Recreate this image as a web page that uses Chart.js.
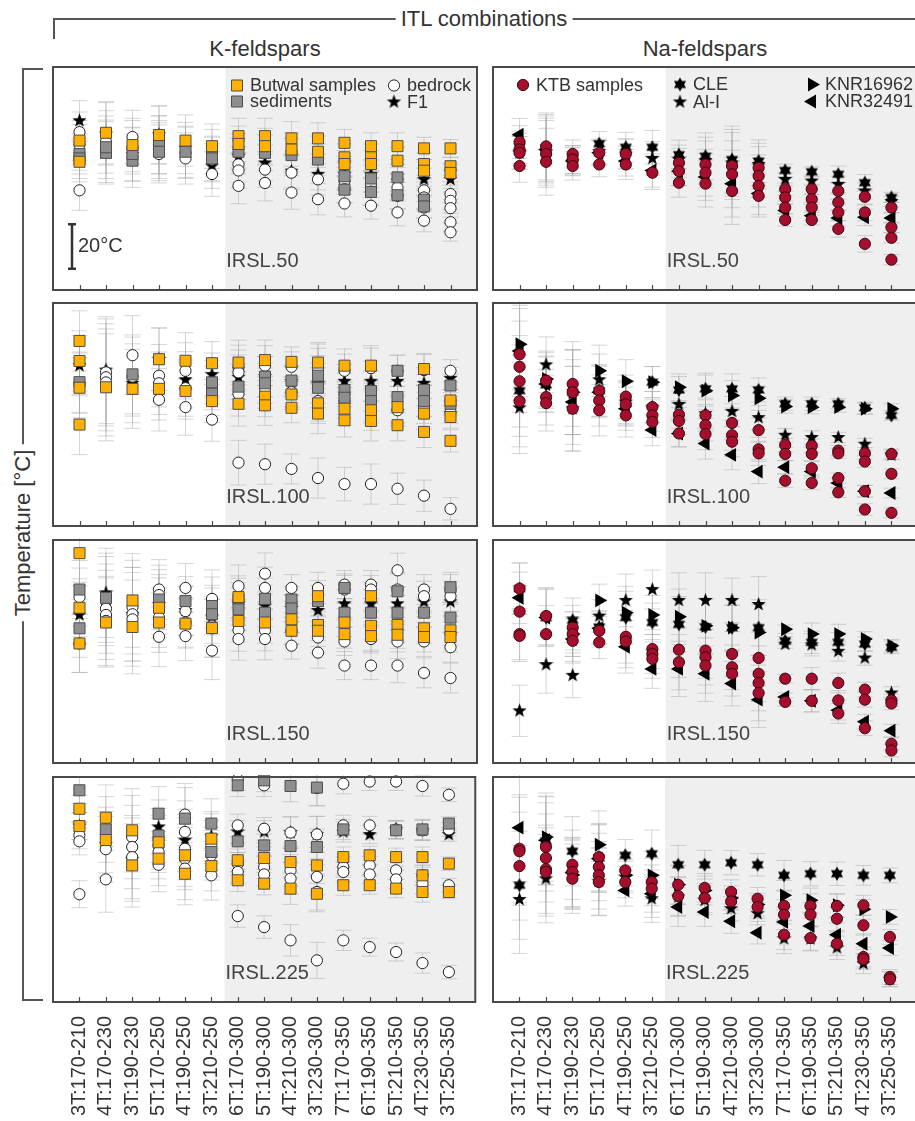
<!DOCTYPE html>
<html>
<head>
<meta charset="utf-8">
<script src="https://cdn.jsdelivr.net/npm/chart.js@4/dist/chart.umd.min.js"></script>
<style>
  body { margin:0; width:915px; height:1121px; overflow:hidden; position:relative; background:#fff;
         font-family:"Liberation Sans", Arial, sans-serif; color:#333; }
  canvas { position:absolute; }
  .hd { position:absolute; font-size:22px; white-space:nowrap; background:#fff; padding:0 5px;
        transform:translate(-50%,-50%); line-height:24px; }
  .ln { position:absolute; background:#555; }
</style>
</head>
<body>
<div class="ln" style="left:53px;top:18px;width:862px;height:1.5px"></div>
<div class="ln" style="left:53px;top:18px;width:1.5px;height:21px"></div>
<div class="hd" style="left:484px;top:19px">ITL combinations</div>
<div class="hd" style="left:265px;top:49px">K-feldspars</div>
<div class="hd" style="left:705px;top:49px">Na-feldspars</div>
<div class="ln" style="left:22px;top:68px;width:1.5px;height:933px"></div>
<div class="ln" style="left:22px;top:68px;width:21px;height:1.5px"></div>
<div class="ln" style="left:22px;top:999px;width:21px;height:1.5px"></div>
<div class="hd" style="left:23px;top:533px;transform:translate(-50%,-50%) rotate(-90deg)">Temperature [°C]</div>

<script>
// ITL combinations (x axis)
const categories = ['3T:170-210','4T:170-230','3T:190-230','5T:170-250','4T:190-250','3T:210-250',
  '6T:170-300','5T:190-300','4T:210-300','3T:230-300','7T:170-350','6T:190-350','5T:210-350','4T:230-350','3T:250-350'];
const steps = ['IRSL.50', 'IRSL.100', 'IRSL.150', 'IRSL.225'];

// ---- K-feldspars, IRSL.50 ----
const kButwal50 = [[67,57.5],[70.5],[65],[69.5],[67],[64.5],[69,65.5],[69,64.5],[68,63],[68,62],[66,59.5,56.5],[64.5,59.5,56.5],[64.5,58],[63.5,56.5,53.5],[63.5,55.5,52.5]];
const kSed50 = [[61,59],[61.5,64],[58,61],[65,62],[62],[62,59],[62],[61.5],[60.5],[58.5],[51,45],[50,44],[50.5,42.5],[40.5,37.5],[]];
const kBedrock50 = [[70.8,65.2,44.7],[66.4,62.2],[68.6,64],[65.2,63,61],[61.5,59],[58.5,52],[56.3,53.6,46.7],[54,48],[52.6,43.7],[49.6,40.7],[48.9,45.2,38.8],[47.4,44.1,37.8],[45.9,42.2,34.8],[44.7,41.5,37,31.1],[43,40,36.7,30.4,25.9]];
const kF1_50 = [75.9,70,60.7,69.6,63.7,55.6,60,57,53.3,51.9,51.9,51.9,48.9,49.6,49.6];
const kErr50 = [9,14,12,13,11.5,10,8,8,7.5,7,6,6,6,5,4];

// ---- K-feldspars, IRSL.100 ----
const kButwal100 = [[83,74,62,45.5],[62.2],[61.5],[74.8,61.5],[74.1,60.5],[73,56],[73.3,54.8],[74.4,58,54.1],[73.6,59,53],[73.3,55,50.4],[71.9,52.6,47.4],[71.9,51.9,47.1],[53.3,45.2],[70.4,50.4,42.2],[56.3,48.9,38.2]];
const kSed100 = [[64.5],[],[68],[],[],[64.4,59.3],[62.5],[67,64],[65.2],[67.4,62],[61,57.5],[60.5,56],[69.6,57.8],[61,56],[63,54.8]];
const kBedrock100 = [[64],[68.9,66.7,64.4],[76.6,67],[67.4,64,56.6],[69.6,61.8,53.3],[61.8,47.7],[71.1,68.9,59.3,28.4],[71.9,61.8,27.7],[71.4,60,25.6],[72.6,70.7,56,21.5],[69.6,56,18.8],[70.8,55.1,18.8],[69.6,51.9,16.7],[69.9,53,13.6],[69.6,51.1,7.7]];
const kF1_100 = [71.9,69.9,64,74.8,65.6,67.9,66.7,67,64.7,64,64.9,64.9,64.9,64,66.2];
const kErr100 = [13.5,24,17.7,14,12.6,9.7,10,9,6.7,9,7.5,9,7,7,5];

// ---- K-feldspars, IRSL.150 ----
const kButwal150 = [[94.1,69.6,53.6],[63],[72.9,61],[69.6,63],[62.5],[60.5],[74.4,63.7],[63],[64.4,59.3],[74.8,61.9,59.3],[63,57.8],[74.8,61.5,56.9],[61.9,57.5],[60.4,56.5],[59.5,56.5]];
const kSed150 = [[77.8,60.4],[74.1],[],[73.3],[72.6],[70.4,66.7],[73.3,68.9],[73.6,67.4],[73.3,69.3],[72.6],[78.5,67.4],[67.4],[77,67.4],[67.4],[78.8,65.2]];
const kBedrock150 = [[74.4,53.6],[72.6,69.2,66.4,63.7],[69.9,66.7,64.4],[77.8,75.3,65.2,56.6],[78.5,68.1,63,56.9],[73.6,60.4,50.4],[79.3,59.6,55.6],[84.9,78.5,59.6,55.6],[78.5,59.3,52.6],[78.5,56.3,49.5],[80,77.8,54.5,43.7],[80,77.8,55.6,43.7],[86.4,77.8,54.5,43.7],[77.8,74.8,54.5,40.4],[77.8,74.8,51.9,38.1]];
const kF1_150 = [66.4,76.3,66.7,71.1,68.4,65.5,71.4,70.4,69.3,68.4,71.4,71.4,71.4,72.3,72.3];
const kErr150 = [13,20,21,13.4,11,13,9.5,9.3,6,7,6.3,6.3,7.7,6.7,6.7];

// ---- K-feldspars, IRSL.225 ----
const kButwal225 = [[85.9,78.2],[81.9,72],[76.3,60.7],[71,63.7],[65.2,57],[72.6,60.4],[63,54.1],[64,52.6],[62.2,50.4],[60.7,48.1],[64.4,51.9],[65.2,51.9],[64.4,50.4],[64.4,56.3,48.9],[61.5,48.9]];
const kSed225 = [[94.1],[76.7],[],[83.7,74],[81.5],[79.3,66.7],[96.3,71.4],[98.5,69.6],[96,69.3],[95.3,68.9],[76.7],[],[76.3],[76.7],[79.3]];
const kBedrock225 = [[74.1,71.4,47.9],[67.9,54.5],[73.3,68.9,64.4],[69.6,66.7,61],[83.3,75.6,68.1,63.7,59.3],[69.6,65.2,56.3],[99,78.5,61.5,57.8,38.2],[96.3,77,60,56.7,33.3],[75.3,58.5,54.8,27.4],[95.1,74.5,55.6,48.9,18.5],[97,78.5,60,57.8,27.4],[98,78.5,60.7,56.7,24.4],[98,76.6,58.5,54.5,22.2],[96,76.3,56.3,52.6,17.3],[92.1,76.7,51.9,13.3]];
const kF1_225 = [78.2,70.1,63.3,77.8,71.9,73.6,75.6,75.6,75.3,74.5,75.6,74.4,76.7,76.3,74.4];
const kErr225 = [6,14.6,18.5,12,13.8,11,5,5,7,8,4.5,4,4,4.5,3];

// ---- Na-feldspars, IRSL.50 ----
const naKtb50 = [[66.4,63,61.5,55.6],[64.4,61,57.5],[61,58.5,55.6],[61.5,56.3],[61,56.3],[52.6],[57,53.3,48.1],[56.3,52.6,47.7],[55.6,51.9,44.4],[54.8,51.1,46.7,42.2],[45.2,41.5,37,31.4],[45.2,40.7,37,31.4],[44.4,39.3,34.8,27.4],[41.8,34.8,20.7],[37,28.1,23.4,13.6]];
const naCle50 = [64,63.7,58.5,65.6,64,64,60.7,60,58.5,57.8,53.6,53,51.9,48.1,41.5];
const naAlI50 = [61.5,62,57.5,62.2,61,59,58.5,58,57,56.3,49.6,48.9,47.4,44.4,39.7];
const naKnr16962_50 = [];
const naKnr32491_50 = [69.6,63,57.8,61.5,57.8,53.6,53.3,50.7,47.7,43.3,35.6,33.3,32.3,32.6,32.3];
const naErr50 = [7.3,15,6.3,5.5,6.7,7.5,6.5,10.5,15,9.5,2.8,2.2,3.7,3.7,2.3];

// ---- Na-feldspars, IRSL.100 ----
const naKtb100 = [[77,71.4,64.9,56],[65.2,57.8,55.1],[63.7,60,52.6],[60.7,56.3,51.9],[58,54.5,49.6],[53.3,49.6,46.7],[49.9,47.1,41.5],[49.6,45.2,41.2],[46.2,40.7,37.8],[43,34.4,32.6],[36.3,32.3,20.3],[36,32.3,25.9,19.3],[33.8,32.6,21.5,15.1],[32.6,28.9,15.6,7.4],[32.3,23.4,5.9]];
const naCle100 = [60.7,63.3,60,60.7,55,64.5,61,61.5,61.5,61,54.8,54.8,54.8,53,49.6];
const naAlI100 = [53,72.3,52.6,65.6,55.6,53.3,54.5,50.4,51.4,48.6,40.7,39.7,39.7,36.7,31.9];
const naKnr16962_100 = [81.5,65.9,60,69.6,64.9,64.5,62.2,60.7,58.5,57.3,53.6,53.3,53.3,52.6,52.6];
const naKnr32491_100 = [78.5,63.7,55.6,60,52.6,43,41.5,37,31.9,24.4,26.4,24.4,19.3,15.6,14.8];
const naErr100 = [20.5,12.5,19,11.5,9.7,7,6,7,6.7,5.4,3,3,2.3,2.6,2.2];

// ---- Na-feldspars, IRSL.150 ----
const naKtb150 = [[78.2,67.9,57.8,57],[65.9,57.8],[60.7,57.8,54.8],[59.3,54.1],[56.6,54.5],[51.1,48.9,46.7],[50.8,45.2],[50.4,47.4,43.7],[48.9,42.9,40],[47.1,40,35.9,31.4],[37.8,27.4],[37.8,27.9],[35.9,28.1,22.2],[32.9,28.4,15.6],[28.1,26.7,8.6,5.6]];
const naCle150 = [78.2,65.2,64,61,65.2,63,62.2,61,60.7,60.7,54.8,54.1,54.1,53.3,51.9];
const naAlI150 = [23.4,44.1,39.3,65.9,72.9,77.8,72.9,72.9,72.9,71.1,53.3,53,50.1,47.1,31.4];
const naKnr16962_150 = [null,null,57.8,72.9,67.4,66.4,65.6,61.5,60.7,58.5,60,57.8,57.8,55.6,52.6];
const naKnr32491_150 = [74.1,65.2,55.6,60.4,52.1,42.2,42.2,40,35.6,28.4,29.6,27.9,23.7,18.5,14.5];
const naErr150 = [11.5,12.8,10,7.3,11.8,8.7,12.4,12.4,10,12.5,1.9,5,4.4,3.3,2.8];

// ---- Na-feldspars, IRSL.225 ----
const naKtb225 = [[68.1,67,60.4],[68.9,64,59,57.8],[61,57.8,54.8],[64.4,60,56.3,53.3],[58.5,53.3],[53.3,50.4],[52.1,47.1],[50.7,46.2],[48.9,44.7],[45.9,42.2],[42.7,38.8,29.9],[42.7,38.8,28.4],[42.7,37,25.9],[43,34.1,20,19],[28.9,11.1,10.1]];
const naCle225 = [51.9,71.6,67,64,65.2,65.9,61,61,61.9,61,56.3,57,57,56.3,56.3];
const naAlI225 = [45.6,54.8,57,53.6,55.5,45.9,46.7,45.2,41.5,39.3,28.1,28.1,24.1,17,10.1];
const naKnr16962_225 = [null,73.3,56.5,69.9,56.3,56.3,52.1,49.6,46.2,43.3,47.4,45.2,43,41.2,37.8];
const naKnr32491_225 = [77.5,71.9,57.5,63.7,49.6,48.1,42.2,40,35.9,30.8,35.6,33.8,29.9,25.9,24];
const naErr225 = [24,19.6,15.4,15,7,10.5,8.6,6.4,5.4,5,6.6,5.4,5.2,4.4,3.3];

// layout of the 4x2 panel grid
const ROW_TOP = [67, 303, 540, 777];
const PANEL_H = 225;
const COL_LEFT = [53, 493];
const PANEL_W = [424, 425];
const FONT = '"Liberation Sans", Arial, sans-serif';

const ORANGE = '#ffb000', GREY = '#8e8e8e', RED = '#a50f2d';

function starCanvas(n, ro, ri) {
  const c = document.createElement('canvas');
  const s = Math.ceil(ro * 2 + 2);
  c.width = c.height = s;
  const g = c.getContext('2d');
  g.beginPath();
  for (let k = 0; k < 2 * n; k++) {
    const r = k % 2 ? ri : ro;
    const a = -Math.PI / 2 + k * Math.PI / n;
    g.lineTo(s / 2 + r * Math.cos(a), s / 2 + r * Math.sin(a));
  }
  g.closePath();
  g.fillStyle = '#000';
  g.fill();
  return c;
}
const star5 = starCanvas(5, 7.5, 3.1);
const star6 = starCanvas(6, 7, 4.1);

// flatten per-category lists into scatter points
function pts(list) {
  const out = [];
  list.forEach((v, i) => {
    [].concat(v).forEach(y => { if (y != null) out.push({ x: i, y: y }); });
  });
  return out;
}

function kSets(butwal, sed, bed, f1) {
  return [
    { label: 'Butwal samples', data: pts(butwal), pointStyle: 'rect', pointRadius: 7.8,
      pointBackgroundColor: ORANGE, pointBorderColor: '#4d4d4d', pointBorderWidth: 1 },
    { label: 'sediments', data: pts(sed), pointStyle: 'rect', pointRadius: 7.8,
      pointBackgroundColor: GREY, pointBorderColor: '#4d4d4d', pointBorderWidth: 1 },
    { label: 'bedrock', data: pts(bed), pointStyle: 'circle', pointRadius: 5.6,
      pointBackgroundColor: '#fff', pointBorderColor: '#222', pointBorderWidth: 1 },
    { label: 'F1', data: pts(f1), pointStyle: star5, pointRadius: 6 }
  ];
}

function naSets(ktb, cle, ali, knrA, knrB) {
  return [
    { label: 'KTB samples', data: pts(ktb), pointStyle: 'circle', pointRadius: 5.6,
      pointBackgroundColor: RED, pointBorderColor: '#3a0810', pointBorderWidth: 1 },
    { label: 'KNR16962', data: pts(knrA), pointStyle: 'triangle', pointRotation: 90, pointRadius: 8,
      pointBackgroundColor: '#000', pointBorderColor: '#000', pointBorderWidth: 0 },
    { label: 'KNR32491', data: pts(knrB), pointStyle: 'triangle', pointRotation: -90, pointRadius: 8,
      pointBackgroundColor: '#000', pointBorderColor: '#000', pointBorderWidth: 0 },
    { label: 'CLE', data: pts(cle), pointStyle: star6, pointRadius: 6 },
    { label: 'Al-I', data: pts(ali), pointStyle: star5, pointRadius: 6 }
  ];
}

// white panel with the grey band for the combinations from 6T:170-300 on
const shadePlugin = {
  id: 'shade',
  beforeDatasetsDraw(chart, args, opts) {
    const { ctx, chartArea: ca, scales: { x, y } } = chart;
    ctx.save();
    ctx.fillStyle = '#fff';
    ctx.fillRect(ca.left, ca.top, ca.width, ca.height);
    const xs = x.getPixelForValue(5.5);
    ctx.fillStyle = '#efefef';
    ctx.fillRect(xs, ca.top, ca.right - xs, ca.height);
    // step label
    ctx.fillStyle = '#444';
    ctx.font = '20px ' + FONT;
    ctx.textBaseline = 'middle';
    ctx.fillText(opts.step, xs + 1, ca.bottom - 29);
    // 20 °C scale bar
    if (opts.scaleBar) {
      const bx = ca.left + 19, t = y.getPixelForValue(29.5), b = y.getPixelForValue(9.5);
      ctx.strokeStyle = '#333';
      ctx.lineWidth = 2.5;
      ctx.beginPath();
      ctx.moveTo(bx, t); ctx.lineTo(bx, b);
      ctx.moveTo(bx - 4, t); ctx.lineTo(bx + 4, t);
      ctx.moveTo(bx - 4, b); ctx.lineTo(bx + 4, b);
      ctx.stroke();
      ctx.fillStyle = '#333';
      ctx.fillText('20°C', bx + 6, (t + b) / 2);
    }
    ctx.restore();
  }
};

// error bars, one per point, drawn under the markers
const errPlugin = {
  id: 'errbars',
  beforeDatasetsDraw(chart, args, opts) {
    const { ctx, scales: { x, y } } = chart;
    ctx.save();
    ctx.strokeStyle = 'rgba(165,165,165,0.45)';
    ctx.lineWidth = 1;
    chart.data.datasets.forEach(ds => {
      ds.data.forEach(p => {
        const e = opts.errs[p.x];
        const px = x.getPixelForValue(p.x);
        const t = y.getPixelForValue(p.y + e), b = y.getPixelForValue(p.y - e);
        ctx.beginPath();
        ctx.moveTo(px, t); ctx.lineTo(px, b);
        ctx.moveTo(px - 8, t); ctx.lineTo(px + 8, t);
        ctx.moveTo(px - 8, b); ctx.lineTo(px + 8, b);
        ctx.stroke();
      });
    });
    ctx.restore();
  }
};

// panel frame, inner ticks and legend
const framePlugin = {
  id: 'frame',
  afterDraw(chart, args, opts) {
    const { ctx, chartArea: ca, scales: { x } } = chart;
    ctx.save();
    ctx.strokeStyle = '#4a4a4a';
    ctx.lineWidth = 2;
    ctx.strokeRect(ca.left, ca.top, ca.width, ca.height);
    ctx.lineWidth = 1.2;
    ctx.beginPath();
    categories.forEach((c, i) => {
      const px = Math.round(x.getPixelForValue(i)) + 0.5;
      ctx.moveTo(px, ca.bottom); ctx.lineTo(px, ca.bottom - 5);
    });
    ctx.stroke();
    if (opts.legend) {
      ctx.font = '18px ' + FONT;
      ctx.textBaseline = 'middle';
      opts.legend.forEach(it => {
        const ds = chart.data.datasets.find(d => d.label === it.label);
        const lx = ca.left + it.dx, ly = ca.top + it.dy;
        ctx.fillStyle = ds.pointBackgroundColor || '#000';
        ctx.strokeStyle = ds.pointBorderColor || '#000';
        ctx.lineWidth = ds.pointBorderWidth || 0;
        Chart.helpers.drawPoint(ctx, {
          pointStyle: ds.pointStyle, radius: ds.pointRadius,
          rotation: ds.pointRotation || 0, borderWidth: ds.pointBorderWidth || 0
        }, lx, ly);
        ctx.fillStyle = '#333';
        ctx.fillText(ds.label, lx + 13, ly + 1);
      });
    }
    ctx.restore();
  }
};

const kLegend = [
  { label: 'Butwal samples', dx: 184, dy: 18.5 },
  { label: 'sediments', dx: 184, dy: 34.5 },
  { label: 'bedrock', dx: 341, dy: 18.5 },
  { label: 'F1', dx: 341, dy: 35 }
];
const naLegend = [
  { label: 'KTB samples', dx: 30, dy: 18 },
  { label: 'CLE', dx: 187, dy: 17.5 },
  { label: 'Al-I', dx: 187, dy: 35 },
  { label: 'KNR16962', dx: 319, dy: 17.5 },
  { label: 'KNR32491', dx: 319, dy: 34.5 }
];

function panel(col, row, datasets, errs, extra) {
  const bottom = row === 3;
  const cv = document.createElement('canvas');
  const top = ROW_TOP[row] - 2;
  const h = bottom ? 1121 - top : PANEL_H + 4;
  cv.width = PANEL_W[col] + 4;
  cv.height = h;
  cv.style.left = (COL_LEFT[col] - 2) + 'px';
  cv.style.top = top + 'px';
  document.body.appendChild(cv);
  new Chart(cv, {
    type: 'scatter',
    data: { datasets },
    options: {
      responsive: false,
      animation: false,
      events: [],
      clip: false,
      layout: { autoPadding: false, padding: { left: 2, right: 2, top: 2, bottom: bottom ? 0 : 2 } },
      scales: {
        x: {
          type: 'linear', min: -1, max: 15, display: bottom,
          grid: { display: false }, border: { display: false },
          afterBuildTicks: s => { s.ticks = categories.map((c, i) => ({ value: i })); },
          afterFit: s => { s.height = h - 2 - PANEL_H; },
          ticks: {
            autoSkip: false, minRotation: 90, maxRotation: 90, padding: 6, color: '#333',
            font: { size: 20, family: FONT },
            callback: v => categories[v]
          }
        },
        y: { min: 0, max: 100, display: false }
      },
      plugins: {
        legend: { display: false },
        tooltip: { enabled: false },
        shade: { step: steps[row], scaleBar: !!extra.scaleBar },
        errbars: { errs },
        frame: { legend: extra.legend || null }
      }
    },
    plugins: [shadePlugin, errPlugin, framePlugin]
  });
}

panel(0, 0, kSets(kButwal50, kSed50, kBedrock50, kF1_50), kErr50, { legend: kLegend, scaleBar: true });
panel(0, 1, kSets(kButwal100, kSed100, kBedrock100, kF1_100), kErr100, {});
panel(0, 2, kSets(kButwal150, kSed150, kBedrock150, kF1_150), kErr150, {});
panel(0, 3, kSets(kButwal225, kSed225, kBedrock225, kF1_225), kErr225, {});
panel(1, 0, naSets(naKtb50, naCle50, naAlI50, naKnr16962_50, naKnr32491_50), naErr50, { legend: naLegend });
panel(1, 1, naSets(naKtb100, naCle100, naAlI100, naKnr16962_100, naKnr32491_100), naErr100, {});
panel(1, 2, naSets(naKtb150, naCle150, naAlI150, naKnr16962_150, naKnr32491_150), naErr150, {});
panel(1, 3, naSets(naKtb225, naCle225, naAlI225, naKnr16962_225, naKnr32491_225), naErr225, {});
</script>
</body>
</html>
